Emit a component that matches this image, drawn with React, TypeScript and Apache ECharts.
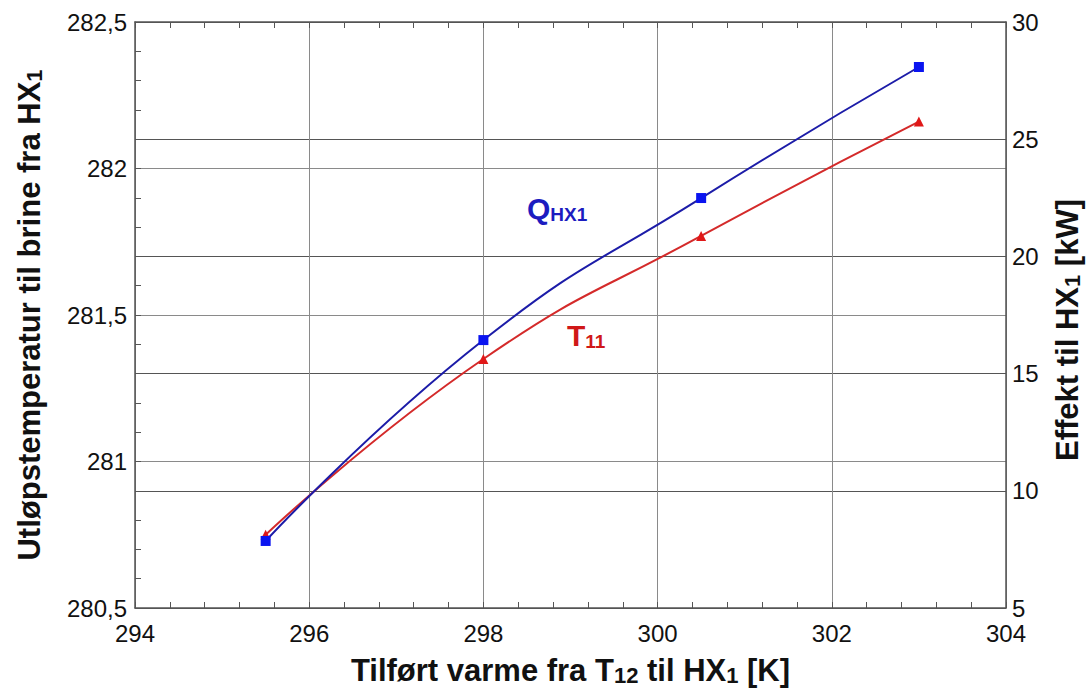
import React, { useEffect, useRef } from "react";
import * as echarts from "echarts";

// Supplied heat (x) for each operating point
const suppliedHeat = [295.5, 298, 300.5, 303];
// Brine outlet temperature T11 [K] (left axis)
const outletTemp = [280.75, 281.35, 281.77, 282.16];
// Heat exchanger duty Q_HX1 [kW] (right axis)
const effect = [7.86, 16.43, 22.49, 28.08];

const FONT = "'Liberation Sans', Arial, sans-serif";
const AXIS_COLOR = "#555";
const GRID_COLOR = "#8a8a8a";
const TICK_FONT = 24;
const TITLE_FONT = 31;

export default function App() {
  const ref = useRef<HTMLDivElement>(null);

  useEffect(() => {
    if (!ref.current) return;
    const chart = echarts.init(ref.current, undefined, { renderer: "svg" });

    const titleRich = {
      sub: {
        fontSize: 22,
        fontWeight: "bold",
        fontFamily: FONT,
        color: "#111",
        verticalAlign: "bottom",
        padding: [9, 0, 0, 0],
      },
    };
    const titleStyle = {
      fontSize: TITLE_FONT,
      fontWeight: "bold",
      color: "#111",
      fontFamily: FONT,
      rich: titleRich,
    };

    chart.setOption({
      animation: false,
      backgroundColor: "#fff",
      textStyle: { fontFamily: FONT },
      grid: {
        left: 135,
        right: 86,
        top: 22,
        bottom: 85,
        containLabel: false,
        outerBoundsMode: "none",
      },
      xAxis: [
        {
          type: "value",
          min: 294,
          max: 304,
          interval: 2,
          position: "bottom",
          name: "Tilført varme fra T{sub|12} til HX{sub|1} [K]",
          nameLocation: "middle",
          nameGap: 47,
          nameTextStyle: titleStyle,
          axisLine: { show: true, lineStyle: { color: AXIS_COLOR, width: 1.5 } },
          axisTick: { show: true, inside: true, length: 6, lineStyle: { color: AXIS_COLOR } },
          minorTick: { show: true, splitNumber: 5, length: 6, lineStyle: { color: AXIS_COLOR } },
          axisLabel: { fontSize: TICK_FONT, color: "#111", margin: 13, fontFamily: FONT },
          splitLine: { show: true, lineStyle: { color: GRID_COLOR, width: 1 } },
        },
        {
          type: "value",
          min: 294,
          max: 304,
          interval: 2,
          position: "top",
          axisLine: { show: true, lineStyle: { color: AXIS_COLOR, width: 1.5 } },
          axisTick: { show: true, inside: true, length: 6, lineStyle: { color: AXIS_COLOR } },
          minorTick: { show: true, splitNumber: 5, length: 6, lineStyle: { color: AXIS_COLOR } },
          axisLabel: { show: false },
          splitLine: { show: false },
        },
      ],
      yAxis: [
        {
          type: "value",
          min: 280.5,
          max: 282.5,
          interval: 0.5,
          position: "left",
          name: "Utløpstemperatur til brine fra HX{sub|1}",
          nameLocation: "middle",
          nameGap: 90,
          nameTextStyle: titleStyle,
          axisLine: { show: true, lineStyle: { color: AXIS_COLOR, width: 1.5 } },
          axisTick: { show: true, inside: true, length: 6, lineStyle: { color: AXIS_COLOR } },
          minorTick: { show: true, splitNumber: 5, length: 6, lineStyle: { color: AXIS_COLOR } },
          axisLabel: {
            fontSize: TICK_FONT,
            color: "#111",
            margin: 8,
            fontFamily: FONT,
            formatter: (v: number) => String(v).replace(".", ","),
          },
          splitLine: { show: true, lineStyle: { color: GRID_COLOR, width: 1 } },
        },
        {
          type: "value",
          min: 5,
          max: 30,
          interval: 5,
          position: "right",
          name: "Effekt til HX{sub|1} [kW]",
          nameLocation: "middle",
          nameGap: 46,
          nameRotate: 90,
          nameTextStyle: { ...titleStyle, padding: [0, 30, 0, 0] },
          axisLine: { show: true, lineStyle: { color: AXIS_COLOR, width: 1.5 } },
          axisTick: { show: false },
          axisLabel: { fontSize: TICK_FONT, color: "#111", margin: 6, fontFamily: FONT },
          splitLine: { show: true, lineStyle: { color: "#555", width: 1 } },
        },
      ],
      series: [
        {
          name: "T11",
          type: "line",
          xAxisIndex: 0,
          yAxisIndex: 0,
          smooth: 0.5,
          data: suppliedHeat.map((x, i) => [x, outletTemp[i]]),
          symbol: "triangle",
          symbolSize: 10,
          showSymbol: true,
          lineStyle: { color: "#d42a2a", width: 2 },
          itemStyle: { color: "#e01818" },
          z: 3,
        },
        {
          name: "QHX1",
          type: "line",
          xAxisIndex: 0,
          yAxisIndex: 1,
          smooth: 0.5,
          data: suppliedHeat.map((x, i) => [x, effect[i]]),
          symbol: "rect",
          symbolSize: 10,
          showSymbol: true,
          lineStyle: { color: "#1c1ca8", width: 2 },
          itemStyle: { color: "#0a14f0" },
          z: 4,
        },
      ],
      graphic: [
        {
          type: "text",
          left: 527,
          top: 193,
          style: {
            text: "Q{s|HX1}",
            fontFamily: FONT,
            fontSize: 30,
            fontWeight: "bold",
            fill: "#1c1cc0",
            rich: {
              s: { fontSize: 19, fontWeight: "bold", fontFamily: FONT, fill: "#1c1cc0", padding: [12, 0, 0, 0] },
            },
          },
        },
        {
          type: "text",
          left: 567,
          top: 320,
          style: {
            text: "T{s|11}",
            fontFamily: FONT,
            fontSize: 30,
            fontWeight: "bold",
            fill: "#d01818",
            rich: {
              s: { fontSize: 19, fontWeight: "bold", fontFamily: FONT, fill: "#d01818", padding: [12, 0, 0, 0] },
            },
          },
        },
      ],
    });

    return () => chart.dispose();
  }, []);

  return <div ref={ref} style={{ width: 1092, height: 693, position: "absolute", left: 0, top: 0 }} />;
}
